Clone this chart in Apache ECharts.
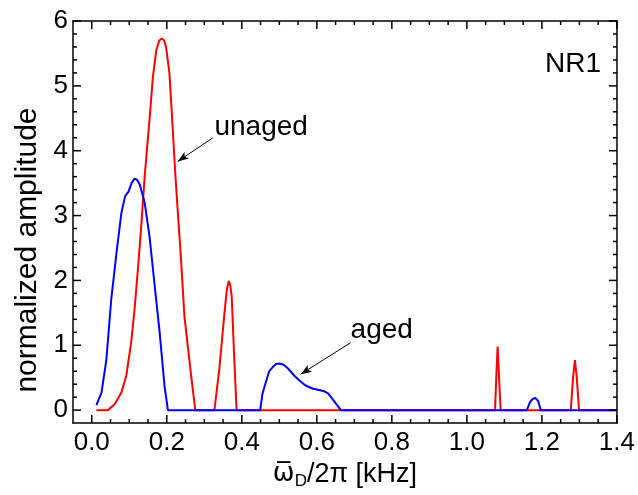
<!DOCTYPE html>
<html><head><meta charset="utf-8">
<script src="https://cdn.jsdelivr.net/npm/echarts@6/dist/echarts.min.js"></script>
<style>html,body{margin:0;padding:0;background:#fff}#c{width:638px;height:495px}</style>
</head><body><div id="c"></div>
<script>
// ---- data ----
const unagedX = [0.0125,0.043,0.061,0.079,0.092,0.105,0.114,0.123,0.132,0.141,0.154,0.163,0.172,0.180,0.187,0.193,0.198,0.207,0.216,0.222,0.229,0.238,0.247,0.256,0.265,0.276,0.327,0.340,0.353,0.360,0.365,0.369,0.373,0.380,0.386,1.075,1.079,1.082,1.085,1.090,1.277,1.283,1.288,1.293,1.299,1.4];
const unagedY = [0,0,0.09,0.27,0.53,1.04,1.55,2.17,2.84,3.6,4.48,5.14,5.55,5.70,5.73,5.70,5.6,5.2,4.32,3.71,3.09,2.32,1.45,0.99,0.53,0,0,0.63,1.45,1.85,1.99,1.93,1.76,0.78,0,0,0.6,0.98,0.6,0,0,0.5,0.77,0.5,0,0];
const agedX = [0.0125,0.026,0.039,0.052,0.066,0.079,0.089,0.098,0.106,0.114,0.121,0.128,0.141,0.154,0.167,0.181,0.194,0.203,0.449,0.455,0.464,0.473,0.482,0.491,0.500,0.511,0.522,0.540,0.555,0.570,0.590,0.606,0.620,0.630,0.646,0.664,1.160,1.168,1.175,1.182,1.190,1.197,1.4];
const agedY = [0.077,0.27,0.78,1.71,2.43,3.04,3.30,3.37,3.50,3.57,3.55,3.48,3.2,2.68,1.96,1.2,0.37,0,0,0.25,0.43,0.6,0.66,0.71,0.72,0.70,0.65,0.53,0.45,0.38,0.33,0.31,0.29,0.26,0.14,0,0,0.12,0.17,0.19,0.14,0,0];
const xTickLabels = ['0.0','0.2','0.4','0.6','0.8','1.0','1.2','1.4'];
const yTickLabels = ['0','1','2','3','4','5','6'];
const xRange = [-0.05, 1.4];
const yRange = [-0.2, 6];
const xMajorSplit = 7, yMajorSplit = 6;   // -> major step 0.2 and 1
const xMinorStep = 0.05, yMinorStep = 0.2;
const annotations = [
  {text:'unaged', textAt:[0.327,4.36], from:[0.322,4.195], to:[0.229,3.835]},
  {text:'aged',   textAt:[0.690,1.23], from:[0.690,1.04],  to:[0.557,0.554]}
];
const panelTag = 'NR1';

// tick positions: [axis (0 = x, 1 = y), value, length in px]
const tickMarks = [];
xTickLabels.forEach(s => tickMarks.push([0, +s, 8]));
yTickLabels.forEach(s => tickMarks.push([1, +s, 8]));
for (let i = 1; i <= 28; i++) if (i % 4) tickMarks.push([0, +(i * xMinorStep).toFixed(2), 4]);
for (let i = 1; i <= 30; i++) if (i % 5) tickMarks.push([1, +(i * yMinorStep).toFixed(1), 4]);

const FONT = '"Liberation Sans", Arial, sans-serif';
const AX = '#000';

function fmtX(v) { return v.toFixed(1); }
function fmtY(v) { return String(Math.round(v)); }

function axisDef(kind, pos, labels) {
  const r = kind === 'x' ? xRange : yRange;
  return {
    type:'value', position:pos, min:r[0], max:r[1],
    splitNumber: kind === 'x' ? xMajorSplit : yMajorSplit,
    axisLine:{show:true, onZero:false, lineStyle:{color:AX, width:1.5}},
    axisTick:{show:false},
    axisLabel:{show:labels, margin:kind === 'x' ? 7 : 5, fontFamily:FONT, fontSize:26, color:'#000',
      showMinLabel:false, showMaxLabel:true, formatter: kind === 'x' ? fmtX : fmtY},
    splitLine:{show:false}
  };
}

const xAxes = [axisDef('x', 'bottom', true), axisDef('x', 'top', false)];
Object.assign(xAxes[0], {
  name:'{w|ω\u0305}{s|D}{n|/2π [kHz]}', nameLocation:'middle', nameGap:29,
  nameTextStyle:{fontFamily:FONT, fontSize:27, color:'#000',
    rich:{w:{fontFamily:'"DejaVu Sans"', fontSize:26, color:'#000'},
          s:{fontFamily:FONT, fontSize:17, color:'#000', padding:[14,0,0,0]},
          n:{fontFamily:FONT, fontSize:27, color:'#000'}}}
});
const yAxes = [axisDef('y', 'left', true), axisDef('y', 'right', false)];
Object.assign(yAxes[0], {
  name:'normalized amplitude', nameLocation:'middle', nameGap:29,
  nameTextStyle:{fontFamily:FONT, fontSize:30, color:'#000', padding:[0,56,0,0]}
});

function arrowLine(a) {
  return [{coord:a.from, symbol:'none'}, {coord:a.to, symbol:'arrow'}];
}

function renderTick(params, api) {
  const k = api.value(0), v = api.value(1), len = api.value(2);
  const st = {stroke:AX, lineWidth:1.5};
  if (k === 0) {
    const b = api.coord([v, yRange[0]]), t = api.coord([v, yRange[1]]);
    return {type:'group', children:[
      {type:'line', shape:{x1:b[0], y1:b[1], x2:b[0], y2:b[1] - len}, style:st},
      {type:'line', shape:{x1:t[0], y1:t[1], x2:t[0], y2:t[1] + len}, style:st}]};
  }
  const l = api.coord([xRange[0], v]), r = api.coord([xRange[1], v]);
  return {type:'group', children:[
    {type:'line', shape:{x1:l[0], y1:l[1], x2:l[0] + len, y2:l[1]}, style:st},
    {type:'line', shape:{x1:r[0], y1:r[1], x2:r[0] - len, y2:r[1]}, style:st}]};
}

const chart = echarts.init(document.getElementById('c'));
chart.setOption({
  animation:false,
  backgroundColor:'#fff',
  title:{text:panelTag, right:37, top:50, padding:0,
    textStyle:{fontFamily:FONT, fontSize:28, fontWeight:'normal', color:'#000'}},
  grid:{left:73, right:20, top:21, bottom:71},
  xAxis:xAxes,
  yAxis:yAxes,
  series:[
    {name:'ticks', type:'custom', xAxisIndex:0, yAxisIndex:0, silent:true, clip:false, z:5,
     encode:{x:1, y:1}, data:tickMarks, renderItem:renderTick},
    {name:'unaged', type:'line', xAxisIndex:0, yAxisIndex:0, showSymbol:false, symbol:'none',
     data:unagedX.map((x,i)=>[x,unagedY[i]]), lineStyle:{color:'#ff0000', width:2}, z:2,
     markLine:{silent:true, symbolSize:[6,11], label:{show:false}, lineStyle:{color:'#000', width:1, type:'solid'},
       data:[arrowLine(annotations[0])]}},
    {name:'aged', type:'line', xAxisIndex:0, yAxisIndex:0, showSymbol:false, symbol:'none',
     data:agedX.map((x,i)=>[x,agedY[i]]), lineStyle:{color:'#0000ff', width:2}, z:3,
     markLine:{silent:true, symbolSize:[6,11], label:{show:false}, lineStyle:{color:'#000', width:1, type:'solid'},
       data:[arrowLine(annotations[1])]}}
  ]
});
chart.setOption({
  graphic: annotations.map(a => {
    const p = chart.convertToPixel({xAxisIndex:0, yAxisIndex:0}, a.textAt);
    return {type:'text', x:p[0], y:p[1],
      style:{text:a.text, fontFamily:FONT, fontSize:28, fill:'#000', textAlign:'left', textVerticalAlign:'middle'}};
  })
});
</script></body></html>
